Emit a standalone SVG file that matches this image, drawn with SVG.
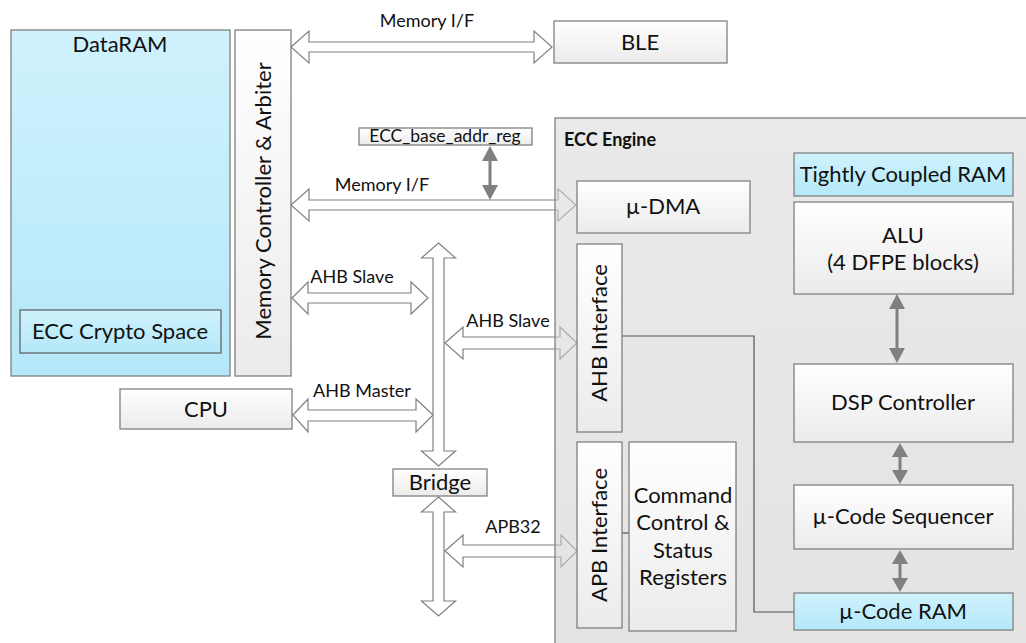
<svg xmlns="http://www.w3.org/2000/svg" width="1026" height="643" viewBox="0 0 1026 643">
<defs>
<linearGradient id="gBox" x1="0" y1="0" x2="0" y2="1"><stop offset="0" stop-color="#ffffff"/><stop offset="1" stop-color="#ebebeb"/></linearGradient>
<linearGradient id="gBlue" x1="0" y1="0" x2="0" y2="1"><stop offset="0" stop-color="#cff2fd"/><stop offset="1" stop-color="#b4e8f9"/></linearGradient>
<linearGradient id="gEng" x1="0" y1="0" x2="0" y2="1"><stop offset="0" stop-color="#d8d8d8"/><stop offset="1" stop-color="#cccccc"/></linearGradient>
<style>
text{font-family:Lato,"Liberation Sans",sans-serif;fill:#111;}
.big{font-size:22px;text-anchor:middle;}
.lbl{font-size:18px;text-anchor:middle;}
.box{fill:url(#gBox);stroke:#808080;stroke-width:1.3;}
.blue{fill:url(#gBlue);stroke:#808080;stroke-width:1.3;}
.bus{fill:#ffffff;stroke:#808080;stroke-width:1.2;}
.ga{fill:#808080;stroke:none;}
.ln{fill:none;stroke:#555;stroke-width:1.2;}
</style>
</defs>

<g id="connectors">
<polygon class="bus" points="291,47 309,31 309,42 534,42 534,31 552,47 534,63 534,52 309,52 309,63"/>
<polygon class="bus" points="291,205 309,189 309,200 558,200 558,189 576,205 558,221 558,210 309,210 309,221"/>
<polygon class="bus" points="292,298 308,282 308,293 411,293 411,282 428,298 411,314 411,303 308,303 308,314"/>
<polygon class="bus" points="445,343 463,327 463,337 560,337 560,327 577,343 560,359 560,349 463,349 463,359"/>
<polygon class="bus" points="293,415 308,399 308,410 416,410 416,399 433,415 416,432 416,421 308,421 308,432"/>
<polygon class="bus" points="445,551 463,535 463,545 561,545 561,535 577,551 561,567 561,557 463,557 463,567"/>
<polygon class="bus" points="438.5,243 455.5,258 444,258 444,451 455.5,451 438.5,466 421.5,451 433,451 433,258 421.5,258"/>
<polygon class="bus" points="438.5,497 455.5,512 444,512 444,601 455.5,601 438.5,616 421.5,601 433,601 433,512 421.5,512"/>
</g>

<g id="ecc-engine">
<rect x="555" y="118" width="480" height="540" fill="url(#gEng)" fill-opacity="0.55" stroke="#808080" stroke-width="1.3"/>
<text x="564" y="146" style="font-size:18px;font-weight:bold;">ECC Engine</text>
</g>

<g id="gray-arrows">
<rect x="488.5" y="160" width="3" height="26" class="ga"/>
<polygon class="ga" points="490,146 498,161 482,161"/>
<polygon class="ga" points="490,200 498,185 482,185"/>
<rect x="895.5" y="308" width="3" height="42" class="ga"/>
<polygon class="ga" points="897,294 905,309 889,309"/>
<polygon class="ga" points="897,363 905,348 889,348"/>
<rect x="898.5" y="456" width="3" height="14" class="ga"/>
<polygon class="ga" points="900,443 908,457 892,457"/>
<polygon class="ga" points="900,484 908,470 892,470"/>
<rect x="898.5" y="563" width="3" height="16" class="ga"/>
<polygon class="ga" points="900,550 908,564 892,564"/>
<polygon class="ga" points="900,592 908,578 892,578"/>
<polyline class="ln" points="622,336 754,336 754,612 794,612"/>
<line class="ln" x1="622" y1="533" x2="629" y2="533"/>
</g>

<g id="dataram">
<rect x="11" y="30" width="219" height="346" class="blue"/>
<text x="120" y="52" class="big">DataRAM</text>
</g>
<g id="ecc-crypto-space">
<rect x="20" y="310" width="201" height="43" class="blue" style="stroke:#666"/>
<text x="120" y="339" class="big">ECC Crypto Space</text>
</g>
<g id="mem-ctrl">
<rect x="235" y="30" width="56" height="346" class="box"/>
<text class="big" transform="translate(271,201) rotate(-90)">Memory Controller &amp; Arbiter</text>
</g>
<g id="ble">
<rect x="554" y="21" width="173" height="42" class="box"/>
<text x="640" y="50" class="big">BLE</text>
</g>
<g id="ecc-base-addr-reg">
<rect x="359" y="128" width="173" height="17" class="box"/>
<text x="445" y="142" class="lbl" style="font-size:17.5px">ECC_base_addr_reg</text>
</g>
<g id="cpu">
<rect x="120" y="389" width="172" height="40" class="box"/>
<text x="206" y="417" class="big">CPU</text>
</g>
<g id="bridge">
<rect x="393" y="469" width="94" height="27" class="box"/>
<text x="440" y="490" class="big">Bridge</text>
</g>
<g id="udma">
<rect x="577" y="181" width="173" height="52" class="box"/>
<text x="663" y="214" class="big">µ-DMA</text>
</g>
<g id="tcram">
<rect x="794" y="153" width="219" height="43" class="blue"/>
<text x="903" y="182" class="big">Tightly Coupled RAM</text>
</g>
<g id="alu">
<rect x="794" y="202" width="219" height="92" class="box"/>
<text x="903" y="243" class="big">ALU</text>
<text x="903" y="270" class="big">(4 DFPE blocks)</text>
</g>
<g id="dsp">
<rect x="794" y="364" width="219" height="78" class="box"/>
<text x="903" y="410" class="big">DSP Controller</text>
</g>
<g id="useq">
<rect x="794" y="485" width="219" height="64" class="box"/>
<text x="903" y="524" class="big">µ-Code Sequencer</text>
</g>
<g id="uram">
<rect x="794" y="593" width="219" height="37" class="blue"/>
<text x="903" y="619" class="big">µ-Code RAM</text>
</g>
<g id="ahb-if">
<rect x="577" y="244" width="45" height="188" class="box"/>
<text class="big" transform="translate(607,333) rotate(-90)">AHB Interface</text>
</g>
<g id="apb-if">
<rect x="577" y="442" width="45" height="186" class="box"/>
<text class="big" transform="translate(607,535) rotate(-90)">APB Interface</text>
</g>
<g id="ccsr">
<rect x="629" y="442" width="107" height="189" class="box"/>
<text x="683" y="503" class="big">Command</text>
<text x="683" y="530" class="big">Control &amp;</text>
<text x="683" y="558" class="big">Status</text>
<text x="683" y="585" class="big">Registers</text>
</g>

<g id="labels">
<text x="427" y="27" class="lbl">Memory I/F</text>
<text x="382" y="191" class="lbl">Memory I/F</text>
<text x="352" y="283" class="lbl">AHB Slave</text>
<text x="508" y="327" class="lbl">AHB Slave</text>
<text x="362" y="397" class="lbl">AHB Master</text>
<text x="513" y="533" class="lbl">APB32</text>
</g>
</svg>
